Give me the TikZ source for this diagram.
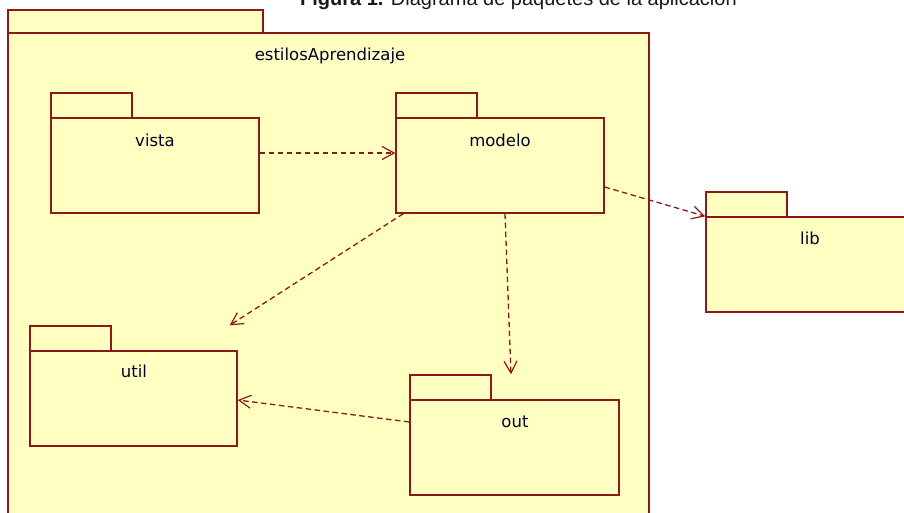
\documentclass[tikz,border=0pt]{standalone}
\usepackage{fontspec}
\setmainfont{DejaVu Sans}
\newfontfamily\capfont{Liberation Sans}
\usetikzlibrary{arrows.meta}
\definecolor{pkgline}{RGB}{140,24,24}
\definecolor{pkgfill}{RGB}{255,255,194}
\tikzset{
  pkgbody/.style={draw=pkgline, fill=pkgfill, line width=1.4pt, inner sep=0pt, minimum height=95pt},
  pkgtab/.style={draw=pkgline, fill=pkgfill, line width=1.4pt},
  pkglbl/.style={anchor=base, inner sep=0pt, font=\fontsize{16.5}{18}\selectfont, text=black!85!blue},
  depend/.style={draw=pkgline, line width=1.3pt, dash pattern=on 5.5pt off 3.5pt,
    -{Straight Barb[length=12pt,width=13pt,line width=1.2pt]}},
  captxt/.style={anchor=base west, inner sep=0pt, font=\capfont\fontsize{20}{22}\selectfont, text=black!90}
}
\begin{document}
\begin{tikzpicture}[x=1pt,y=-1pt]
\useasboundingbox (0,0) rectangle (904,512);
\clip (0,0) rectangle (904,512);
\fill[white] (0,0) rectangle (904,512);
% caption (cut at the top, as in the reference)
\node[captxt] (cap) at (300,5) {\textbf{Figura 1.} Diagrama de paquetes de la aplicación};
% outer package
\draw[pkgtab] (8,33) rectangle (263,10);
\node[pkgbody, minimum width=641pt, minimum height=507pt] (outer) at (328.5,286.5) {};
\node[pkglbl] (outerLbl) at (330,60) {estilosAprendizaje};
% vista
\draw[pkgtab] (51,118) rectangle ++(81,-25);
\node[pkgbody, minimum width=208pt] (vista) at (155,165.5) {};
\node[pkglbl] (vistaLbl) at (155,146) {vista};
% modelo
\draw[pkgtab] (396,118) rectangle ++(81,-25);
\node[pkgbody, minimum width=208pt] (modelo) at (500,165.5) {};
\node[pkglbl] (modeloLbl) at (500,146) {modelo};
% lib
\draw[pkgtab] (706,217) rectangle ++(81,-25);
\node[pkgbody, minimum width=208pt] (lib) at (810,264.5) {};
\node[pkglbl] (libLbl) at (810,244) {lib};
% util
\draw[pkgtab] (30,351) rectangle ++(81,-25);
\node[pkgbody, minimum width=207pt] (util) at (133.5,398.5) {};
\node[pkglbl] (utilLbl) at (134,377) {util};
% out
\draw[pkgtab] (410,400) rectangle ++(81,-25);
\node[pkgbody, minimum width=209pt] (out) at (514.5,447.5) {};
\node[pkglbl] (outLbl) at (515,427) {out};
% connector ends
\coordinate (utilIn) at ([xshift=-8pt,yshift=25pt]util.north east);
\coordinate (outIn) at ([xshift=-3.5pt,yshift=25pt]out.north);
% dependencies
\draw[depend] ([yshift=12.5pt]vista.east) -- ([yshift=12.5pt]modelo.west);
\draw[depend] ([yshift=-21.5pt]modelo.east) -- (lib.north west);
\draw[depend] ([xshift=8pt]modelo.south west) -- (utilIn);
\draw[depend] ([xshift=5pt]modelo.south) -- (outIn);
\draw[depend] ([yshift=25.5pt]out.west) -- ([yshift=-1.5pt]util.east);
\end{tikzpicture}
\end{document}
